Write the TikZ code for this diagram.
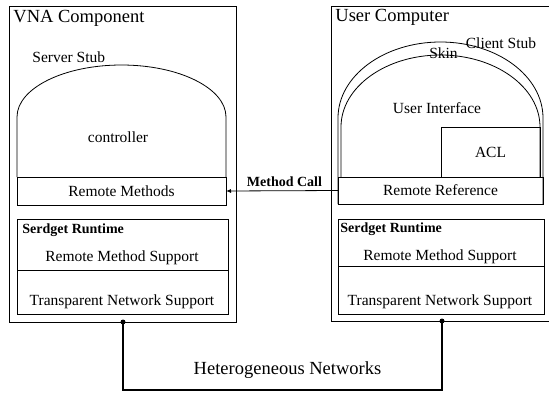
\documentclass[tikz,border=0pt]{standalone}
\usepackage{fontspec}
\setmainfont{Liberation Serif}
\usetikzlibrary{arrows.meta,calc}
\begin{document}
\begin{tikzpicture}[x=1pt,y=-1pt,line width=0.8pt,
  frame/.style={draw,inner sep=0pt,outer sep=0pt},
  body/.style={inner sep=0pt,font=\fontsize{15.5}{18}\selectfont},
  title/.style={inner sep=0pt,anchor=west,font=\fontsize{18.5}{21}\selectfont},
  boldlbl/.style={inner sep=0pt,font=\fontsize{14}{16}\selectfont\bfseries},
  dot/.style={circle,fill,inner sep=0pt,minimum size=5pt},
  net/.style={line width=1.6pt}]
\useasboundingbox (0,0) rectangle (549,394);
\clip (0,0) rectangle (549,394);

% outer boxes
\node[frame,anchor=north west,minimum width=227pt,minimum height=316pt] (vna) at (9,6) {};
\node[frame,anchor=north west,minimum width=230pt,minimum height=315pt] (uc) at (331,6) {};
\node[title] (vnat) at (13,18) {VNA Component};
\node[title] (uct) at (335,17) {User Computer};

% server side
\draw (17,177) -- (17,117) arc[start angle=180,end angle=0,x radius=104.5pt,y radius=52pt] -- (226,177);
\node[body,anchor=west] (ss) at (32,57) {Server Stub};
\node[body] (ctl) at (118,137) {controller};
\node[frame,body,minimum width=209pt,minimum height=28pt] (rm) at (121.5,191) {Remote Methods};

\node[frame,anchor=north west,minimum width=211pt,minimum height=51pt] (lrt) at (17,219) {};
\node[frame,anchor=north west,minimum width=211pt,minimum height=44pt] (ltn) at (17,270) {};
\node[boldlbl,anchor=west] (lsr) at (22,230) {Serdget Runtime};
\node[body] (lrms) at (122,258) {Remote Method Support};
\node[body] (ltns) at (122,302) {Transparent Network Support};

% client side
\draw (338,204) -- (338,118) arc[start angle=180,end angle=0,x radius=102.5pt,y radius=76pt] -- (543,204);
\draw (341,177) -- (341,127) arc[start angle=180,end angle=0,x radius=99.5pt,y radius=72pt] -- (540,177);
\node[body] (cs) at (501,43) {Client Stub};
\node[body] (skin) at (443.5,53) {Skin};
\node[body] (ui) at (437,108) {User Interface};
\node[frame,body,anchor=north west,minimum width=99pt,minimum height=50pt] (acl) at (441,127) {ACL};
\node[frame,body,anchor=north west,minimum width=205pt,minimum height=27pt] (rr) at (338,177) {Remote Reference};

\node[frame,anchor=north west,minimum width=206pt,minimum height=47pt] (rrt) at (338,219) {};
\node[frame,anchor=north west,minimum width=206pt,minimum height=48pt] (rtn) at (338,266) {};
\node[boldlbl,anchor=west] (rsr) at (340,229) {Serdget Runtime};
\node[body] (rrms) at (440,257) {Remote Method Support};
\node[body] (rtns) at (440,302) {Transparent Network Support};

% method call
\draw[-{Latex[length=5pt,width=4pt]}] (rr.west) -- (rm.east);
\node[boldlbl] (mc) at (284.5,182) {Method Call};

% network
\node[dot] (d1) at (vna.south -| 123,0) {};
\node[dot] (d2) at (uc.south -| 442,0) {};
\coordinate (n1) at (123,390);
\coordinate (n2) at (442,390);
\draw[net] (d1.center) -- (n1) -- (n2) -- (d2.center);
\node[inner sep=0pt,font=\fontsize{18.5}{21}\selectfont] (hn) at (287.5,370) {Heterogeneous Networks};
\end{tikzpicture}
\end{document}
